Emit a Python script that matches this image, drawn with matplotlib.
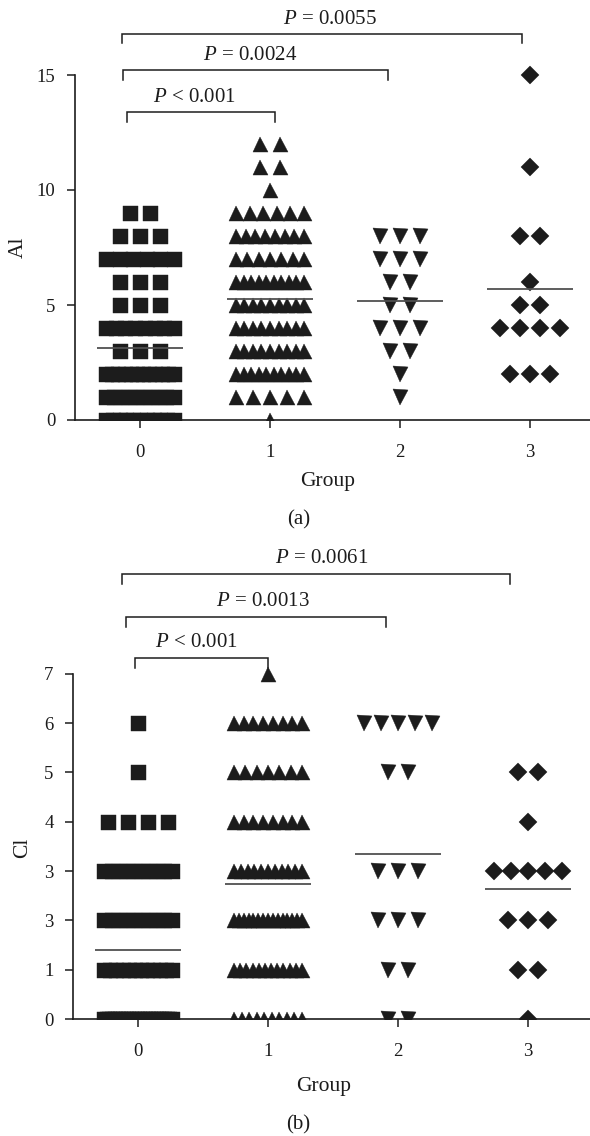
import numpy as np
import matplotlib.pyplot as plt

plt.rcParams['font.family'] = ['Liberation Serif', 'DejaVu Serif']
plt.rcParams['mathtext.fontset'] = 'custom'
plt.rcParams['mathtext.it'] = 'Liberation Serif:italic'
plt.rcParams['mathtext.rm'] = 'Liberation Serif'

groups = [0, 1, 2, 3]
markers = ['s', '^', 'v', 'D']

# number of subjects at each value (list index = value)
al_g0 = [11, 10, 12, 3, 8, 3, 3, 6, 3, 2]
al_g1 = [1, 5, 10, 9, 9, 9, 10, 7, 8, 6, 1, 2, 2]
al_g2 = [0, 1, 1, 2, 3, 2, 2, 3, 3]
al_g3 = [0, 0, 3, 0, 4, 2, 1, 0, 2, 0, 0, 1, 0, 0, 0, 1]

cl_g0 = [26, 12, 10, 10, 4, 1, 1]
cl_g1 = [10, 12, 15, 11, 8, 7, 8, 1]
cl_g2 = [2, 2, 3, 3, 0, 2, 5]
cl_g3 = [1, 2, 3, 5, 1, 2]

al_ticks = [0, 5, 10, 15]
al_ticklabels = ['0', '5', '10', '15']
cl_ticks = [0, 1, 2, 3, 4, 5, 6, 7]
cl_ticklabels = ['0', '1', '3', '3', '4', '5', '6', '7']

al_pvals = ['$P$ < 0.001', '$P$ = 0.0024', '$P$ = 0.0055']
cl_pvals = ['$P$ < 0.001', '$P$ = 0.0013', '$P$ = 0.0061']

INK = '#1c1c1c'
W, H = 590, 1136


def spread(counts, step=0.154, half=0.262):
    xs, ys = [], []
    for val, n in enumerate(counts):
        if n == 0:
            continue
        s = step
        if n > 1 and (n - 1) * s / 2 > half:
            s = 2 * half / (n - 1)
        xs.extend((np.arange(n) - (n - 1) / 2) * s)
        ys.extend([val] * n)
    return np.array(xs), np.array(ys)


def draw_panel(ax, data, ticks, ticklabels, ylabel, ytop):
    sizes = {'s': 10.8, '^': 10.8, 'v': 10.8, 'D': 9.2}
    for g, counts, m in zip(groups, data, markers):
        xs, ys = spread(counts)
        ax.plot(g + xs, ys, linestyle='none', marker=m, ms=sizes[m],
                color=INK, mec=INK, mew=0.3)
        mean = np.repeat(np.arange(len(counts)), counts).mean()
        ax.hlines(mean, g - 0.33, g + 0.33, color='#505050', lw=1.3, zorder=3)
    ax.set_xlim(-0.5, 3.5)
    ax.set_ylim(0, ytop)
    ax.set_xticks(groups)
    ax.set_yticks(ticks)
    ax.set_yticklabels(ticklabels)
    for s in ['top', 'right']:
        ax.spines[s].set_visible(False)
    for s in ['left', 'bottom']:
        ax.spines[s].set_linewidth(1.2)
        ax.spines[s].set_color(INK)
    ax.spines['left'].set_bounds(0, ticks[-1])
    ax.tick_params(axis='both', direction='out', length=6, width=1.1,
                   color=INK, labelsize=13.5, labelcolor=INK)
    ax.tick_params(axis='x', pad=11)
    ax.tick_params(axis='y', pad=8)
    ax.set_ylabel(ylabel, fontsize=15.5, color=INK, va='center')
    ax.set_xlabel('Group', fontsize=15.5, color=INK, va='center')
    ax.patch.set_visible(False)


def brackets(ax, labels, xspans, ybars, drop, txt_x, txt_dy):
    for lab, (x0, x1), yb, tx in zip(labels, xspans, ybars, txt_x):
        ax.plot([x0, x0, x1, x1], [yb - drop, yb, yb, yb - drop],
                color=INK, lw=1.1, clip_on=False, solid_joinstyle='miter')
        ax.text(tx, yb + txt_dy, lab, ha='center', va='center',
                fontsize=15, color=INK)


fig = plt.figure(figsize=(W / 100, H / 100), dpi=100)

ax_a = fig.add_axes([75 / W, 716 / H, 520 / W, 414 / H])
draw_panel(ax_a, [al_g0, al_g1, al_g2, al_g3], al_ticks, al_ticklabels, 'Al', 18)
ax_a.yaxis.set_label_coords((18 - 75) / 520, 7.52 / 18)
ax_a.xaxis.set_label_coords((327.5 - 75) / 520, -61.7 / 414)
brackets(ax_a, al_pvals, [(-0.10, 1.04), (-0.13, 1.905), (-0.14, 2.94)],
         [13.37, 15.2, 16.79], 0.4, [0.42, 0.85, 1.46], 0.63)

ax_b = fig.add_axes([73 / W, 117 / H, 520 / W, 473.3 / H])
draw_panel(ax_b, [cl_g0, cl_g1, cl_g2, cl_g3], cl_ticks, cl_ticklabels, 'Cl', 9.6)
ax_b.yaxis.set_label_coords((23 - 73) / 520, 3.47 / 9.6)
ax_b.xaxis.set_label_coords((323.7 - 73) / 520, -68 / 473.3)
brackets(ax_b, cl_pvals, [(-0.023, 1.0), (-0.092, 1.91), (-0.12, 2.86)],
         [7.32, 8.15, 9.03], 0.2, [0.446, 0.96, 1.41], 0.32)

fig.text(298.7 / W, 1 - 520 / H, '(a)', ha='center', va='center', fontsize=15, color=INK)
fig.text(298 / W, 1 - 1125 / H, '(b)', ha='center', va='center', fontsize=15, color=INK)

fig.savefig('out.png', dpi=100)
